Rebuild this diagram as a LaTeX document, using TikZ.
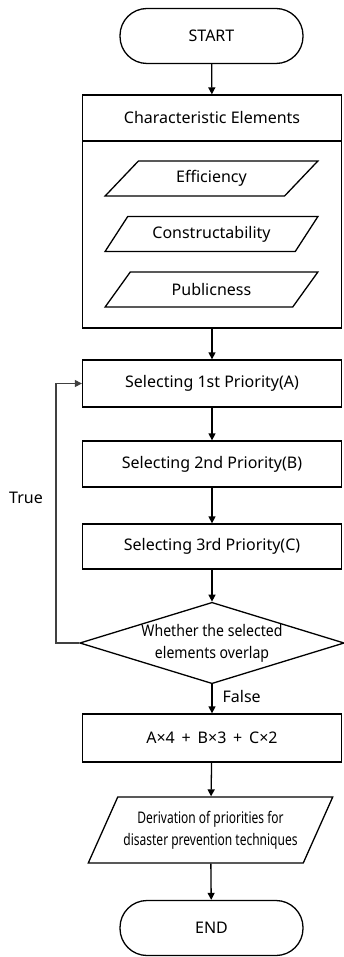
\documentclass[tikz,border=0pt]{standalone}
\usepackage{fontspec}
\setmainfont{Noto Sans}
\usetikzlibrary{shapes.geometric,arrows.meta}
\begin{document}
\begin{tikzpicture}[x=1pt,y=-1pt,
  font=\fontsize{16}{19}\selectfont,
  every node/.style={inner sep=0pt},
  line/.style={line width=1.3pt, draw=black},
  arr/.style={line, -{Triangle[length=7pt,width=7pt]}},
  term/.style={draw, line width=1.3pt, rounded corners=27pt, minimum width=183pt, minimum height=55pt},
  box/.style={draw, line width=1.3pt, minimum width=259pt, minimum height=46pt},
  para/.style={draw, line width=1.3pt, trapezium, trapezium left angle=45, trapezium right angle=135, trapezium stretches=true, minimum width=213pt, minimum height=35pt},
]
\useasboundingbox (0,0) rectangle (343,957);

\node[term] (start) at (211.5,36) {START};
\node[box] (ch) at (212,118) {Characteristic Elements};
\node[box, minimum height=187pt] (cb) at (212,234.5) {};
\node[para] (p1) at (211.5,178.5) {Efficiency};
\node[para] (p2) at (211.5,234) {Constructability};
\node[para] (p3) at (211.5,289.5) {Publicness};

\node[box, minimum height=47pt] (s1) at (212,383.5) {Selecting 1st Priority(A)};
\node[box] (s2) at (212,464) {Selecting 2nd Priority(B)};
\node[box, minimum height=45pt] (s3) at (212,546.5) {Selecting 3rd Priority(C)};

\node[diamond, draw, line width=1.3pt, aspect=3.25, minimum width=259pt, minimum height=80pt, align=center, font=\fontsize{16}{22}\selectfont\addfontfeature{FakeStretch=0.88}] (dec) at (212,643) {Whether the selected\\elements overlap};

\node[box, minimum height=48pt] (f) at (212,738) {A×4 \,+\, B×3 \,+\, C×2};

\node[draw, line width=1.3pt, trapezium, trapezium left angle=54, trapezium right angle=126, trapezium stretches=true, minimum width=245pt, minimum height=66pt, align=center, font=\fontsize{16}{22}\selectfont\addfontfeature{FakeStretch=0.75}] (d) at (210.5,830) {Derivation of priorities for\\disaster prevention techniques};

\node[term] (end) at (211.5,928) {END};

\draw[arr] (start) -- (ch);
\draw[arr] (cb) -- (s1);
\draw[arr] (s1) -- (s2);
\draw[arr] (s2) -- (s3);
\draw[arr] (s3) -- (dec);
\draw[arr] (dec) -- node[right=10pt, pos=0.42] (fl) {False} (f);
\draw[arr] (f) -- (d);
\draw[arr] (d) -- (end);

\coordinate (lp) at (56,643);
\draw[line width=1.1pt, draw=black!75, -{Triangle[length=7pt,width=7pt]}] (dec.west) -- (lp) |- (s1.west);
\node (tr) at (26,498) {True};
\end{tikzpicture}
\end{document}
